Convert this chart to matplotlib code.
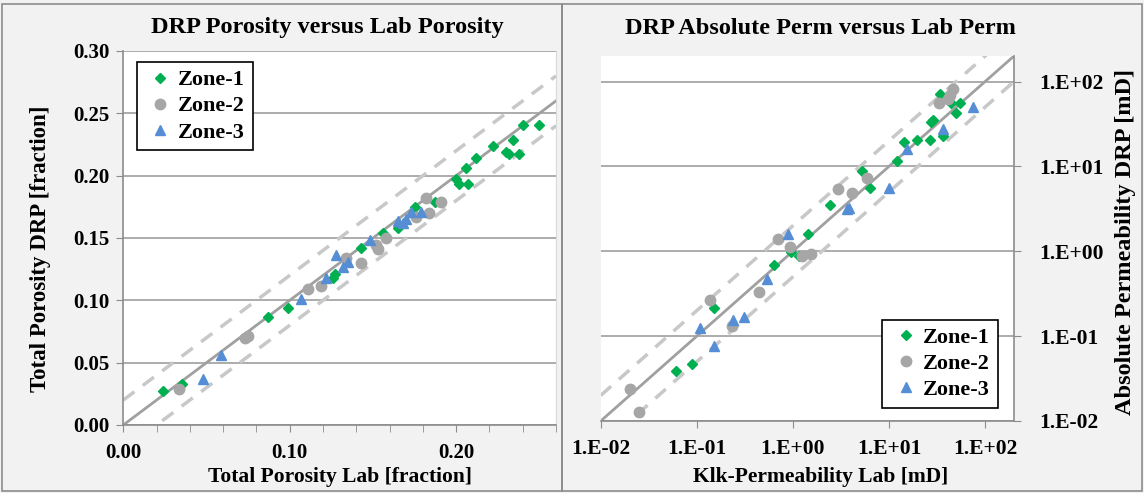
import matplotlib
matplotlib.use("Agg")
import matplotlib.pyplot as plt
import numpy as np
from matplotlib.patches import Rectangle
from matplotlib.ticker import FixedLocator, FuncFormatter, MultipleLocator, NullLocator

plt.rcParams['font.family'] = ['Liberation Serif', 'DejaVu Serif']
plt.rcParams['font.weight'] = 'bold'

zones = ["Zone-1", "Zone-2", "Zone-3"]
colors = ["#00b050", "#a6a6a6", "#558ed5"]
markers = ["D", "o", "^"]
msizes = [5.5, 7.5, 7.5]

# ---- Porosity data (lab, DRP) ----
por_z1_lab = [0.024, 0.035, 0.087, 0.099, 0.126, 0.127, 0.143, 0.156, 0.165, 0.175, 0.187,
              0.200, 0.2016, 0.207, 0.206, 0.212, 0.222, 0.234, 0.230, 0.232, 0.238, 0.240, 0.250]
por_z1_drp = [0.027, 0.033, 0.087, 0.094, 0.118, 0.121, 0.142, 0.154, 0.158, 0.175, 0.179,
              0.197, 0.193, 0.193, 0.206, 0.214, 0.224, 0.229, 0.219, 0.217, 0.217, 0.241, 0.241]
por_z2_lab = [0.0336, 0.073, 0.075, 0.111, 0.119, 0.134, 0.143, 0.152, 0.153, 0.158,
              0.1756, 0.1836, 0.182, 0.191]
por_z2_drp = [0.029, 0.0695, 0.071, 0.109, 0.1115, 0.134, 0.130, 0.144, 0.141, 0.150,
              0.167, 0.170, 0.182, 0.179]
por_z3_lab = [0.048, 0.059, 0.107, 0.122, 0.128, 0.132, 0.135, 0.148, 0.165, 0.168, 0.170, 0.173, 0.179]
por_z3_drp = [0.037, 0.056, 0.101, 0.118, 0.136, 0.127, 0.131, 0.148, 0.164, 0.162, 0.165, 0.171, 0.171]

# ---- Permeability data (lab, DRP) in mD ----
perm_z1_lab = [0.061, 0.090, 0.151, 0.63, 0.96, 1.16, 1.45, 2.42, 5.3, 6.3, 12, 14.2, 19.5,
               26.9, 28.5, 27.5, 36.8, 49.9, 55.3, 34, 44.3]
perm_z1_drp = [0.039, 0.047, 0.214, 0.68, 0.97, 0.885, 1.6, 3.47, 8.9, 5.56, 11.5, 19.4, 20.7,
               20.3, 34.9, 33, 22.8, 42.7, 56.1, 72, 56]
perm_z2_lab = [0.0252, 0.0202, 0.233, 0.138, 0.442, 0.93, 1.25, 1.53, 0.705, 2.98, 4.17, 5.87,
               33, 43.5, 46.1, 41.5]
perm_z2_drp = [0.0129, 0.0237, 0.130, 0.268, 0.330, 1.12, 0.885, 0.933, 1.39, 5.46, 4.86, 7.3,
               56, 70, 82.6, 62.5]
perm_z3_lab = [0.151, 0.108, 0.239, 0.313, 0.541, 0.896, 3.63, 3.85, 10, 15.4, 36.3, 74.6]
perm_z3_drp = [0.077, 0.126, 0.156, 0.170, 0.474, 1.61, 3.14, 3.24, 5.56, 16.2, 27.9, 49.8]

por_range = [0.0, 0.26]
por_band = 0.02
perm_range = [0.01, 200]
perm_factor = 2.0

W, H = 1144, 493
fig = plt.figure(figsize=(W / 100, H / 100), dpi=100)
fig.patch.set_facecolor("#f2f2f2")

# panel borders
fig.add_artist(Rectangle((2 / W, 2 / H), (562 - 2) / W, (H - 6) / H, transform=fig.transFigure,
                         fill=False, edgecolor="#8c8c8c", lw=1.2))
fig.add_artist(Rectangle((562 / W, 2 / H), (W - 564) / W, (H - 6) / H, transform=fig.transFigure,
                         fill=False, edgecolor="#8c8c8c", lw=1.2))

grid_c = "#a6a6a6"
axis_c = "#8c8c8c"
fs_tick_l = 15
fs_tick_r = 15.5
fs_lab = 15.5
fs_ylab_l = 16.5
fs_ylab_r = 17.5
fs_leg = 16
fs_title = 17.5

# ---------------- Left panel ----------------
ax1 = fig.add_axes([123.3 / W, (H - 425) / H, (556 - 123.3) / W, (425 - 51) / H])
ax1.set_facecolor("white")
ax1.set_xlim(por_range)
ax1.set_ylim(0, 0.30)
ax1.xaxis.set_major_locator(FixedLocator([0.0, 0.1, 0.2]))
ax1.xaxis.set_minor_locator(MultipleLocator(0.02))
ax1.yaxis.set_major_locator(MultipleLocator(0.05))
ax1.xaxis.set_major_formatter(FuncFormatter(lambda v, p: f"{v:.2f}"))
ax1.yaxis.set_major_formatter(FuncFormatter(lambda v, p: f"{v:.2f}"))
ax1.grid(axis="y", color=grid_c, lw=1.3)
ax1.set_axisbelow(True)
ax1.spines["top"].set_visible(False)
ax1.spines["right"].set_color("#d9d9d9")
for s in ["left", "bottom"]:
    ax1.spines[s].set_color(axis_c)
    ax1.spines[s].set_linewidth(1.2)
ax1.tick_params(which="both", direction="out", color=axis_c, labelsize=fs_tick_l, length=5)
ax1.tick_params(axis="x", pad=8)
ax1.tick_params(axis="y", pad=5)

xx = np.array(por_range)
ax1.plot(xx, xx, color="#a0a0a0", lw=2.0, zorder=2)
ax1.plot(xx, xx + por_band, color="#c8c8c8", lw=2.5, ls=(0, (4, 3)), zorder=2)
ax1.plot(xx, xx - por_band, color="#c8c8c8", lw=2.5, ls=(0, (4, 3)), zorder=2)

por_sets = [(por_z1_lab, por_z1_drp), (por_z2_lab, por_z2_drp), (por_z3_lab, por_z3_drp)]
for (xs, ys), c, m, ms, lab in zip(por_sets, colors, markers, msizes, zones):
    ax1.plot(xs, ys, ls="none", marker=m, color=c, ms=ms, mec=c, label=lab, zorder=3)

ax1.set_xlabel("Total Porosity Lab [fraction]", fontsize=fs_lab, fontweight="bold")
ax1.set_ylabel("Total Porosity DRP [fraction]", fontsize=fs_ylab_l, fontweight="bold")
ax1.xaxis.set_label_coords(0.5, (425 - 477) / 374)
ax1.xaxis.label.set_va("center")
ax1.yaxis.set_label_coords((40 - 123.3) / 432.7, 0.47)
ax1.yaxis.label.set_va("center")
leg1 = ax1.legend(loc="upper left", bbox_to_anchor=(137 / W, 1 - 62 / H),
                  bbox_transform=fig.transFigure, borderaxespad=0, fontsize=fs_leg, frameon=True,
                  fancybox=False, edgecolor="black", framealpha=1, handletextpad=0.1,
                  borderpad=0.35, handlelength=1.4, labelspacing=0.25)
leg1.get_frame().set_linewidth(1.2)

fig.text(327 / W, 1 - 28 / H, "DRP Porosity versus Lab Porosity", ha="center", va="center",
         fontsize=fs_title, fontweight="bold")

# ---------------- Right panel ----------------
ax2 = fig.add_axes([600.7 / W, (H - 421) / H, (1014 - 600.7) / W, (421 - 56) / H])
ax2.set_facecolor("white")
ax2.set_xscale("log")
ax2.set_yscale("log")
ax2.set_xlim(perm_range)
ax2.set_ylim(perm_range)
dec = [0.01, 0.1, 1, 10, 100]
ax2.xaxis.set_major_locator(FixedLocator(dec))
ax2.yaxis.set_major_locator(FixedLocator(dec))
ax2.xaxis.set_minor_locator(NullLocator())
ax2.yaxis.set_minor_locator(NullLocator())
fmt = FuncFormatter(lambda v, p: f"1.E{int(round(np.log10(v))):+03d}")
ax2.xaxis.set_major_formatter(fmt)
ax2.yaxis.set_major_formatter(fmt)
ax2.yaxis.tick_right()
ax2.yaxis.set_label_position("right")
ax2.grid(axis="y", color=grid_c, lw=1.3)
ax2.set_axisbelow(True)
ax2.spines["top"].set_visible(False)
ax2.spines["left"].set_visible(False)
for s in ["right", "bottom"]:
    ax2.spines[s].set_color(axis_c)
    ax2.spines[s].set_linewidth(1.2)
ax2.tick_params(which="both", direction="out", color=axis_c, labelsize=fs_tick_r, length=5)
ax2.tick_params(axis="x", pad=8)
ax2.tick_params(axis="y", pad=13)

pp = np.array(perm_range)
ax2.plot(pp, pp, color="#a0a0a0", lw=2.0, zorder=2)
ax2.plot(pp, pp * perm_factor, color="#c8c8c8", lw=2.5, ls=(0, (4, 3)), zorder=2)
ax2.plot(pp, pp / perm_factor, color="#c8c8c8", lw=2.5, ls=(0, (4, 3)), zorder=2)

perm_sets = [(perm_z1_lab, perm_z1_drp), (perm_z2_lab, perm_z2_drp), (perm_z3_lab, perm_z3_drp)]
for (xs, ys), c, m, ms, lab in zip(perm_sets, colors, markers, msizes, zones):
    ax2.plot(xs, ys, ls="none", marker=m, color=c, ms=ms, mec=c, label=lab, zorder=3)

ax2.set_xlabel("Klk-Permeability Lab [mD]", fontsize=fs_lab, fontweight="bold")
ax2.set_ylabel("Absolute Permeability DRP [mD]", fontsize=fs_ylab_r, fontweight="bold", rotation=90)
ax2.xaxis.set_label_coords((821 - 600.7) / 413.3, (421 - 477) / 365)
ax2.xaxis.label.set_va("center")
ax2.yaxis.set_label_coords((1125 - 600.7) / 413.3, 0.49)
ax2.yaxis.label.set_va("center")
leg2 = ax2.legend(loc="lower right", bbox_to_anchor=(998 / W, 1 - 408 / H),
                  bbox_transform=fig.transFigure, borderaxespad=0, fontsize=fs_leg, frameon=True,
                  fancybox=False, edgecolor="black", framealpha=1, handletextpad=0.1,
                  borderpad=0.35, handlelength=1.4, labelspacing=0.25)
leg2.get_frame().set_linewidth(1.2)

fig.text(820 / W, 1 - 28 / H, "DRP Absolute Perm versus Lab Perm", ha="center", va="center",
         fontsize=fs_title, fontweight="bold")

fig.savefig("out.png", dpi=100, facecolor=fig.get_facecolor())
